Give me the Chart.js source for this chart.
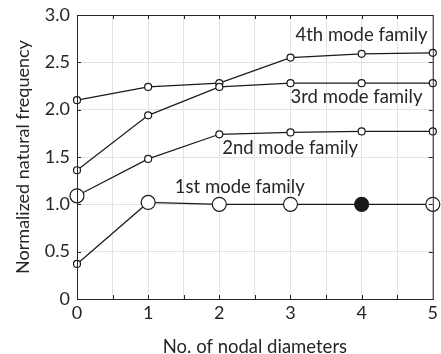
<!DOCTYPE html>
<html>
<head>
<meta charset="utf-8">
<script src="https://cdn.jsdelivr.net/npm/chart.js@4/dist/chart.umd.min.js"></script>
<style>
  html, body { margin: 0; padding: 0; background: #fff; }
  #wrap { width: 441px; height: 354px; }
</style>
</head>
<body>
<div id="wrap"><canvas id="freqChart" width="441" height="354"></canvas></div>
<script>
// nodal diameters and normalized frequencies per mode family
const diameters = [0, 1, 2, 3, 4, 5];
const family1 = [0.37, 1.02, 1.00, 1.00, 1.00, 1.00];
const family2 = [1.09, 1.48, 1.74, 1.76, 1.77, 1.77];
const family3 = [1.36, 1.94, 2.24, 2.28, 2.28, 2.28];
const family4 = [2.10, 2.24, 2.28, 2.55, 2.59, 2.60];
const familyNames = ['1st mode family', '2nd mode family', '3rd mode family', '4th mode family'];
// where each family name sits, in data units (left edge, vertical centre)
const nameX = [1.375, 2.04, 3.0, 3.07];
const nameY = [1.18, 1.59, 2.13, 2.79];

const FONT = 'Lato, "Open Sans", sans-serif';
const INK = '#262626';

function series(values, radii, fills) {
    return {
        data: diameters.map((d, i) => ({ x: d, y: values[i] })),
        borderColor: '#1a1a1a',
        borderWidth: 1.2,
        pointRadius: radii,
        pointHoverRadius: radii,
        pointBackgroundColor: fills,
        pointBorderColor: '#1a1a1a',
        pointBorderWidth: 1.2,
        tension: 0,
        clip: false
    };
}

const small = 3.5, big = 7;
const white = '#ffffff';

// box around the plot area, inward tick marks and the family names
const frame = {
    id: 'frame',
    afterDatasetsDraw(chart) {
        const { ctx, chartArea: a, scales } = chart;
        ctx.save();
        ctx.strokeStyle = INK;
        ctx.lineWidth = 1;
        ctx.strokeRect(a.left + 0.5, a.top + 0.5, a.right - a.left, a.bottom - a.top);
        ctx.beginPath();
        for (let v = 0.5; v < 5; v += 0.5) {
            const px = Math.round(scales.x.getPixelForValue(v)) + 0.5;
            ctx.moveTo(px, a.bottom); ctx.lineTo(px, a.bottom - 4);
            ctx.moveTo(px, a.top); ctx.lineTo(px, a.top + 4);
        }
        for (let v = 0.5; v < 3; v += 0.5) {
            const py = Math.round(scales.y.getPixelForValue(v)) + 0.5;
            ctx.moveTo(a.left, py); ctx.lineTo(a.left + 4, py);
            ctx.moveTo(a.right, py); ctx.lineTo(a.right - 4, py);
        }
        ctx.stroke();
        ctx.fillStyle = INK;
        ctx.font = '18.5px ' + FONT;
        ctx.textAlign = 'left';
        ctx.textBaseline = 'middle';
        familyNames.forEach((name, i) => {
            ctx.fillText(name, scales.x.getPixelForValue(nameX[i]), scales.y.getPixelForValue(nameY[i]));
        });
        ctx.restore();
    }
};

new Chart(document.getElementById('freqChart'), {
    type: 'line',
    data: {
        datasets: [
            series(family1, [small, big, big, big, big, big], [white, white, white, white, '#1a1a1a', white]),
            series(family2, [big, small, small, small, small, small], white),
            series(family3, small, white),
            series(family4, small, white)
        ]
    },
    options: {
        responsive: false,
        animation: false,
        devicePixelRatio: 1,
        layout: { padding: { top: 15, right: 0, left: 0, bottom: 0 } },
        plugins: { legend: { display: false }, tooltip: { enabled: false } },
        scales: {
            x: {
                type: 'linear',
                min: 0,
                max: 5,
                afterFit: s => { s.height = 55; s.paddingRight = 3; s.paddingLeft = 0; },
                border: { display: false },
                grid: { color: '#e3e3e3', drawTicks: false },
                ticks: {
                    stepSize: 0.5,
                    padding: 3,
                    color: INK,
                    font: { family: FONT, size: 18 },
                    maxRotation: 0,
                    autoSkip: false,
                    callback: v => Number.isInteger(v) ? String(v) : ''
                },
                title: {
                    display: true,
                    text: 'No. of nodal diameters',
                    color: INK,
                    font: { family: FONT, size: 18.5 },
                    padding: { top: 13, bottom: -4 }
                }
            },
            y: {
                min: 0,
                max: 3,
                afterFit: s => { s.width = 77; s.paddingTop = 0; s.paddingBottom = 0; },
                border: { display: false },
                grid: { color: '#e3e3e3', drawTicks: false },
                ticks: {
                    stepSize: 0.5,
                    padding: 7,
                    color: INK,
                    font: { family: FONT, size: 18 },
                    callback: v => v === 0 ? '0' : v.toFixed(1)
                },
                title: {
                    display: true,
                    text: 'Normalized natural frequency',
                    color: INK,
                    font: { family: FONT, size: 18 },
                    padding: { top: 12, bottom: 0 }
                }
            }
        }
    },
    plugins: [frame]
});
</script>
</body>
</html>
